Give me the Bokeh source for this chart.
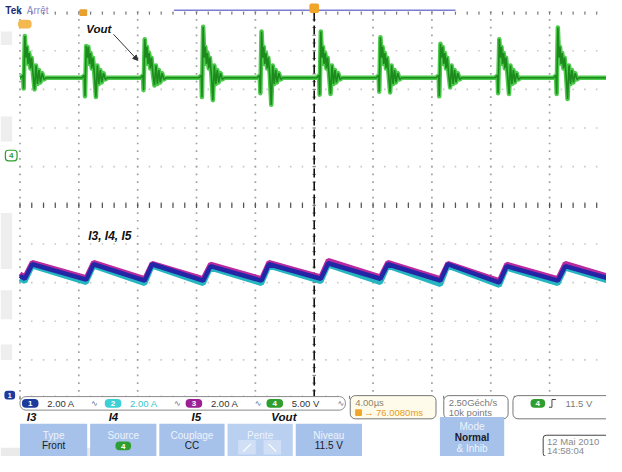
from bokeh.plotting import figure
from bokeh.models import Range1d, Arrow, NormalHead
from bokeh.embed import file_html
from bokeh.resources import INLINE
from bokeh.core.properties import value

# ---------------- scope settings ----------------
TIME_PER_DIV_US = 4.0
VOUT_V_PER_DIV = 5.0
I_A_PER_DIV = 2.0
VOUT_OFFSET_DIV = 1.3      # channel 4 ground marker
I_OFFSET_DIV = -4.9        # channel 1/2/3 ground marker
T_START, T_END = -20.0, 19.87

# ---------------- Vout (channel 4) ----------------
spike_t = [-19.67, -15.50, -11.52, -7.55, -3.58, 0.45, 4.50, 8.58, 12.58, 16.56]
vout_base = 10.0
vout_peak = [15.4, 14.1, 15.0, 16.6, 16.0, 16.0, 15.25, 14.4, 15.0, 16.5]
vout_predip = [8.6, 7.6, 8.4, 7.5, 8.0, 7.8, 8.2, 7.6, 8.0, 7.9]
vout_dip = [8.5, 7.5, 9.0, 7.1, 6.5, 7.9, 8.1, 8.75, 7.9, 7.25]
ring_dt = [-0.30, -0.12, -0.08, 0.0, 0.08, 0.15, 0.22, 0.30, 0.38, 0.46,
           0.56, 0.66, 0.76, 0.86, 0.96, 1.06, 1.18, 1.30, 1.45]
ring_v = [10.0, 10.3, "pre", "peak", 12.6, 14.0, 11.8, 13.2, 11.2, 12.6,
          10.4, "dip", 11.6, 9.2, 11.0, 9.4, 10.6, 9.8, 10.0]

# ---------------- inductor currents I3, I4, I5 (channels 1, 2, 3) ----------------
i_rise_dt = 0.5
i3_start, i3_end = 6.15, 6.05
i3_trough = [6.0, 5.95, 5.9, 5.9, 5.9, 6.0, 6.0, 5.9, 5.8, 5.9]
i3_peak = [6.75, 6.75, 6.75, 6.65, 6.75, 6.8, 6.75, 6.75, 6.65, 6.65]
i4_start, i4_end = 6.0, 5.9
i4_trough = [5.85, 5.8, 5.75, 5.75, 5.75, 5.85, 5.8, 5.7, 5.65, 5.75]
i4_peak = [6.65, 6.65, 6.65, 6.55, 6.65, 6.7, 6.65, 6.65, 6.55, 6.55]
i5_start, i5_end = 6.25, 6.15
i5_trough = [6.1, 6.05, 6.0, 6.0, 6.0, 6.1, 6.1, 6.0, 5.9, 6.0]
i5_peak = [6.85, 6.85, 6.8, 6.75, 6.85, 6.95, 6.85, 6.8, 6.75, 6.8]

channel_scales = ["2.00 A", "2.00 A", "2.00 A", "5.00 V"]
channel_names = ["I3", "I4", "I5", "Vout"]


def vout_series():
    t, v = [T_START], [vout_base]
    for k, ts in enumerate(spike_t):
        special = {"pre": vout_predip[k], "peak": vout_peak[k], "dip": vout_dip[k]}
        for dt, rv in zip(ring_dt, ring_v):
            t.append(ts + dt)
            v.append(special[rv] if isinstance(rv, str) else rv)
    t.append(T_END)
    v.append(vout_base)
    return t, [x / VOUT_V_PER_DIV + VOUT_OFFSET_DIV for x in v]


def current_series(start, trough, peak, end):
    t, a = [T_START], [start]
    for ts, tr, pk in zip(spike_t, trough, peak):
        t += [ts, ts + i_rise_dt]
        a += [tr, pk]
    t.append(T_END)
    a.append(end)
    return t, [x / I_A_PER_DIV + I_OFFSET_DIV for x in a]


# ---------------- figure (reference pixel -> data helpers for decorations) ----------------
PX_PER_DIV_X, PX_PER_DIV_Y = 60.4, 40.0
CX, CY = 322.0, 212.0


def X(px):
    return (px - CX) / PX_PER_DIV_X * TIME_PER_DIV_US


def Y(py):
    return (CY - py) / PX_PER_DIV_Y


p = figure(width=606, height=456, x_range=Range1d(X(0), X(622)), y_range=Range1d(Y(472), Y(0)),
           output_backend="svg", toolbar_location=None, min_border=0,
           x_axis_location=None, y_axis_location=None,
           background_fill_color="white", border_fill_color="white", outline_line_color=None)
p.xgrid.visible = False
p.ygrid.visible = False

FONT = "Liberation Sans"


def txt(px, py, s, size=10, color="#333333", style="normal", align="left", font=FONT):
    p.text(x=[X(px)], y=[Y(py)], text=[s], text_font=value(font), text_font_size=f"{size}px",
           text_color=color, text_font_style=style, text_align=align, text_baseline="middle")


def box(x0, y0, x1, y1, fill, line=None, radius=0, lw=1.0):
    p.quad(left=[X(x0)], right=[X(x1)], top=[Y(y0)], bottom=[Y(y1)], fill_color=fill,
           line_color=line, line_width=lw, border_radius=radius)


def pill(x0, x1, yc, color, label, tcolor="white"):
    box(x0, yc - 4.5, x1, yc + 4.5, color, None, radius=4)
    txt((x0 + x1) / 2, yc + 0.5, label, size=8, color=tcolor, style="bold", align="center")


# left-edge grey artefacts of the screenshot
for (a, b) in [(32, 46), (120, 146), (220, 278), (300, 330), (356, 372)]:
    box(0, a, 12, b, "#eeeeee")
box(0, 463, 120, 472, "#eaeaea")

# ---------------- graticule ----------------
div_x = [-20 + 4 * i for i in range(11)]
div_y = [-5 + i for i in range(11)]
vx, vy, hx, hy = [], [], [], []
for t in div_x:
    if t == 0:
        continue
    for j in range(51):
        vx.append(t)
        vy.append(-5 + 0.2 * j)
for d in div_y:
    for j in range(51):
        hx.append(-20 + 0.8 * j)
        hy.append(d)
p.scatter(hx, hy, marker="square", size=1.6, color="#c8c8c8", line_color=None)
p.scatter(vx, vy, marker="square", size=1.7, color="#a0a0a0", line_color=None)

# centre cross ticks and border ticks
tx = [-20 + 0.8 * j for j in range(51)]
p.segment(x0=tx, y0=[-0.07] * 51, x1=tx, y1=[0.07] * 51, line_color="#555555", line_width=1.2)
p.segment(x0=tx, y0=[4.93] * 51, x1=tx, y1=[5.0] * 51, line_color="#777777", line_width=1.1)
p.segment(x0=tx, y0=[-5.0] * 51, x1=tx, y1=[-4.93] * 51, line_color="#777777", line_width=1.1)
ty = [-5 + 0.2 * j for j in range(51)]
p.segment(x0=[-0.12] * 51, y0=ty, x1=[0.12] * 51, y1=ty, line_color="#777777", line_width=1)
p.line([0, 0], [-5, 5], line_color="#111111", line_width=1.6, line_dash="9 4")

# ---------------- waveforms ----------------
t4, y4 = vout_series()
p.line(t4, y4, line_color="#4cca4c", line_width=4.5, line_join="round")
p.line(t4, y4, line_color="#1c8a1c", line_width=1.6)

t2, y2 = current_series(i4_start, i4_trough, i4_peak, i4_end)
t3, y3 = current_series(i5_start, i5_trough, i5_peak, i5_end)
t1, y1 = current_series(i3_start, i3_trough, i3_peak, i3_end)
p.line(t2, y2, line_color="#25b6c0", line_width=5)
p.line(t3, y3, line_color="#b92aa0", line_width=5)
p.line(t1, y1, line_color="#2326a6", line_width=4.5)

# ---------------- top status ----------------
txt(5, 10, "Tek", size=10, color="#1c2a78", style="bold")
txt(27, 10, "Arrêt", size=10, color="#8c8cc8")
p.line([X(178), X(467)], [Y(10), Y(10)], line_color="#7c7cd4", line_width=1.5)
box(317, 3, 327, 13, "#f0a428", None, radius=2)
box(81, 9, 89, 16, "#e8a030", None, radius=1)
box(18, 20, 32, 29, "#f4b850", None, radius=4)
# channel ground markers
box(5, 155, 17, 166, "white", "#2e9e2e", radius=3, lw=1.2)
txt(11, 160.5, "4", size=8, color="#2e9e2e", style="bold", align="center")
box(4, 404, 15, 413, "#1d3a9e", None, radius=3)
txt(9.5, 408.5, "1", size=7, color="white", style="bold", align="center")

# annotations
txt(88, 30, "Vout", size=11.5, color="#111111", style="bold italic")
p.add_layout(Arrow(end=NormalHead(size=5, fill_color="#333333", line_color="#333333"),
                   x_start=X(116), y_start=Y(35), x_end=X(141), y_end=Y(62),
                   line_color="#333333", line_width=1))
txt(90, 244, "I3, I4, I5", size=12, color="#111111", style="bold italic")

# ---------------- channel readout strip ----------------
box(20, 410, 354, 424, "white", "#8a8a8a", radius=6)
pill_cols = ["#1d3a9e", "#3ccfd6", "#9c1f96", "#2e9e2e"]
pill_x = [22, 107, 190, 273]
text_cols = ["#333333", "#38c4cc", "#333333", "#333333"]
for i in range(4):
    pill(pill_x[i], pill_x[i] + 17, 417, pill_cols[i], str(i + 1))
    txt(pill_x[i] + 26, 417.5, channel_scales[i], size=9.5, color=text_cols[i])
    txt(pill_x[i] + 71 if i < 3 else 346, 417, "∿", size=8, color="#556688", font="DejaVu Sans")
label_x = [27, 111, 196, 278]
for i in range(4):
    txt(label_x[i], 431, channel_names[i], size=11.5, color="#111111", style="bold italic")

# timebase box
box(359, 409, 447, 433, "#fffbea", "#777777", radius=5)
txt(364, 416, "4.00µs", size=9.5, color="#8c8470")
box(364, 423, 371, 430, "#f0a428", None, radius=1)
txt(373, 426.5, "→ 76.0080ms", size=9.5, color="#e89a20")
# sample rate box
box(455, 409, 521, 433, "white", "#777777", radius=5)
txt(460, 416, "2.50Géch/s", size=9.5, color="#7a7a7a")
txt(460, 426.5, "10k points", size=9.5, color="#7a7a7a")
# trigger box
box(526, 409, 640, 433, "white", "#777777", radius=5)
pill(544, 559, 417, "#2e9e2e", "4")
p.line([X(563), X(566), X(566), X(570)], [Y(421), Y(421), Y(413), Y(413)],
       line_color="#444444", line_width=1)
txt(580, 417.5, "11.5 V", size=9.5, color="#7a7a7a")

# ---------------- soft-key buttons ----------------
btn_fill, btn_top, btn_val = "#a6c2ea", "#eef3fc", "#1a1a28"
buttons = [(20, 89, "Type", "Front"), (92, 160, "Source", None), (163, 230, "Couplage", "CC"),
           (233, 300, "Pente", None), (303, 371, "Niveau", "11.5 V")]
for x0, x1, top, val in buttons:
    box(x0, 438, x1, 474, "#bad0f0" if top == "Pente" else btn_fill, None)
    txt((x0 + x1) / 2, 450, top, size=10, color=btn_top, align="center")
    if val:
        txt((x0 + x1) / 2, 460.5, val, size=10, color=btn_val, align="center")
pill(118, 134, 461, "#2e9e2e", "4")
box(244, 455, 262, 470, "#d0dff5", None)
box(270, 455, 288, 470, "#d0dff5", None)
p.line([X(249), X(257)], [Y(467), Y(459)], line_color="#ffffff", line_width=1.2)
p.line([X(275), X(283)], [Y(459), Y(467)], line_color="#ffffff", line_width=1.2)

box(451, 431, 517, 474, btn_fill, None)
txt(484, 441, "Mode", size=10, color=btn_top, align="center")
txt(484, 452.5, "Normal", size=10, color=btn_val, style="bold", align="center")
txt(484, 463.5, "& Inhib", size=10, color=btn_top, align="center")

# date box
box(557, 450, 640, 472, "white", "#444444", radius=3)
txt(561, 456.5, "12 Mai  2010", size=9.5, color="#8a8a8a")
txt(561, 466, "14:58:04", size=9.5, color="#8a8a8a")

open("out.html", "w").write(file_html(p, INLINE))
